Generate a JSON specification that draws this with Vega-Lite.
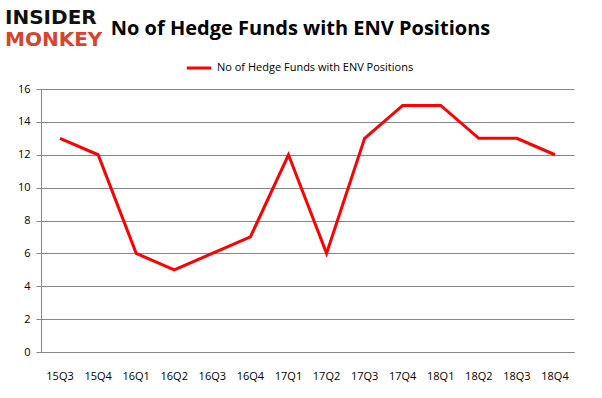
{
  "$schema": "https://vega.github.io/schema/vega-lite/v6.json",
  "width": 533,
  "height": 263,
  "autosize": "none",
  "padding": {"left": 41, "top": 89, "right": 28, "bottom": 46},
  "background": "white",
  "title": {
    "text": "No of Hedge Funds with ENV Positions",
    "font": "Open Sans",
    "fontSize": 20,
    "fontWeight": "bold",
    "color": "#000000",
    "anchor": "middle",
    "frame": "group",
    "dx": -7,
    "offset": -31
  },
  "config": {
    "view": {"stroke": null},
    "font": "Open Sans"
  },
  "layer": [
    {
      "data": {
        "values": [
          {"quarter": "15Q3", "funds": 13, "series": "No of Hedge Funds with ENV Positions"},
          {"quarter": "15Q4", "funds": 12, "series": "No of Hedge Funds with ENV Positions"},
          {"quarter": "16Q1", "funds": 6, "series": "No of Hedge Funds with ENV Positions"},
          {"quarter": "16Q2", "funds": 5, "series": "No of Hedge Funds with ENV Positions"},
          {"quarter": "16Q3", "funds": 6, "series": "No of Hedge Funds with ENV Positions"},
          {"quarter": "16Q4", "funds": 7, "series": "No of Hedge Funds with ENV Positions"},
          {"quarter": "17Q1", "funds": 12, "series": "No of Hedge Funds with ENV Positions"},
          {"quarter": "17Q2", "funds": 6, "series": "No of Hedge Funds with ENV Positions"},
          {"quarter": "17Q3", "funds": 13, "series": "No of Hedge Funds with ENV Positions"},
          {"quarter": "17Q4", "funds": 15, "series": "No of Hedge Funds with ENV Positions"},
          {"quarter": "18Q1", "funds": 15, "series": "No of Hedge Funds with ENV Positions"},
          {"quarter": "18Q2", "funds": 13, "series": "No of Hedge Funds with ENV Positions"},
          {"quarter": "18Q3", "funds": 13, "series": "No of Hedge Funds with ENV Positions"},
          {"quarter": "18Q4", "funds": 12, "series": "No of Hedge Funds with ENV Positions"}
        ]
      },
      "mark": {"type": "line", "strokeWidth": 3, "strokeJoin": "miter"},
      "encoding": {
        "x": {
          "field": "quarter",
          "type": "ordinal",
          "sort": null,
          "scale": {"type": "band", "paddingInner": 0, "paddingOuter": 0},
          "axis": {
            "title": null,
            "labelAngle": 0,
            "labelFont": "Open Sans",
            "labelFontSize": 11,
            "labelColor": "#000000",
            "labelPadding": 18,
            "ticks": false,
            "domainColor": "#868686",
            "domainWidth": 1,
            "grid": false
          }
        },
        "y": {
          "field": "funds",
          "type": "quantitative",
          "scale": {"domain": [0, 16], "nice": false},
          "axis": {
            "title": null,
            "values": [0, 2, 4, 6, 8, 10, 12, 14, 16],
            "labelFont": "Open Sans",
            "labelFontSize": 11,
            "labelColor": "#000000",
            "labelPadding": 6,
            "tickSize": 5,
            "tickColor": "#868686",
            "domainColor": "#868686",
            "grid": true,
            "gridColor": "#868686",
            "gridWidth": 1
          }
        },
        "color": {
          "field": "series",
          "type": "nominal",
          "scale": {"range": ["#ff0000"]},
          "legend": {
            "title": null,
            "orient": "none",
            "legendX": 144,
            "legendY": -35,
            "symbolType": "stroke",
            "symbolSize": 600,
            "symbolStrokeWidth": 3,
            "labelFont": "Open Sans",
            "labelFontSize": 11,
            "labelColor": "#000000",
            "labelLimit": 400
          }
        }
      }
    },
    {
      "data": {"values": [{"t": "INSIDER"}]},
      "mark": {"type": "text", "font": "DejaVu Sans", "fontWeight": "bold", "fontSize": 20, "color": "#111111", "align": "left", "baseline": "top", "x": -36, "y": -81},
      "encoding": {"text": {"field": "t"}}
    },
    {
      "data": {"values": [{"t": "MONKEY"}]},
      "mark": {"type": "text", "font": "DejaVu Sans", "fontWeight": "bold", "fontSize": 20, "color": "#d9432b", "align": "left", "baseline": "top", "x": -36, "y": -59},
      "encoding": {"text": {"field": "t"}}
    }
  ]
}
